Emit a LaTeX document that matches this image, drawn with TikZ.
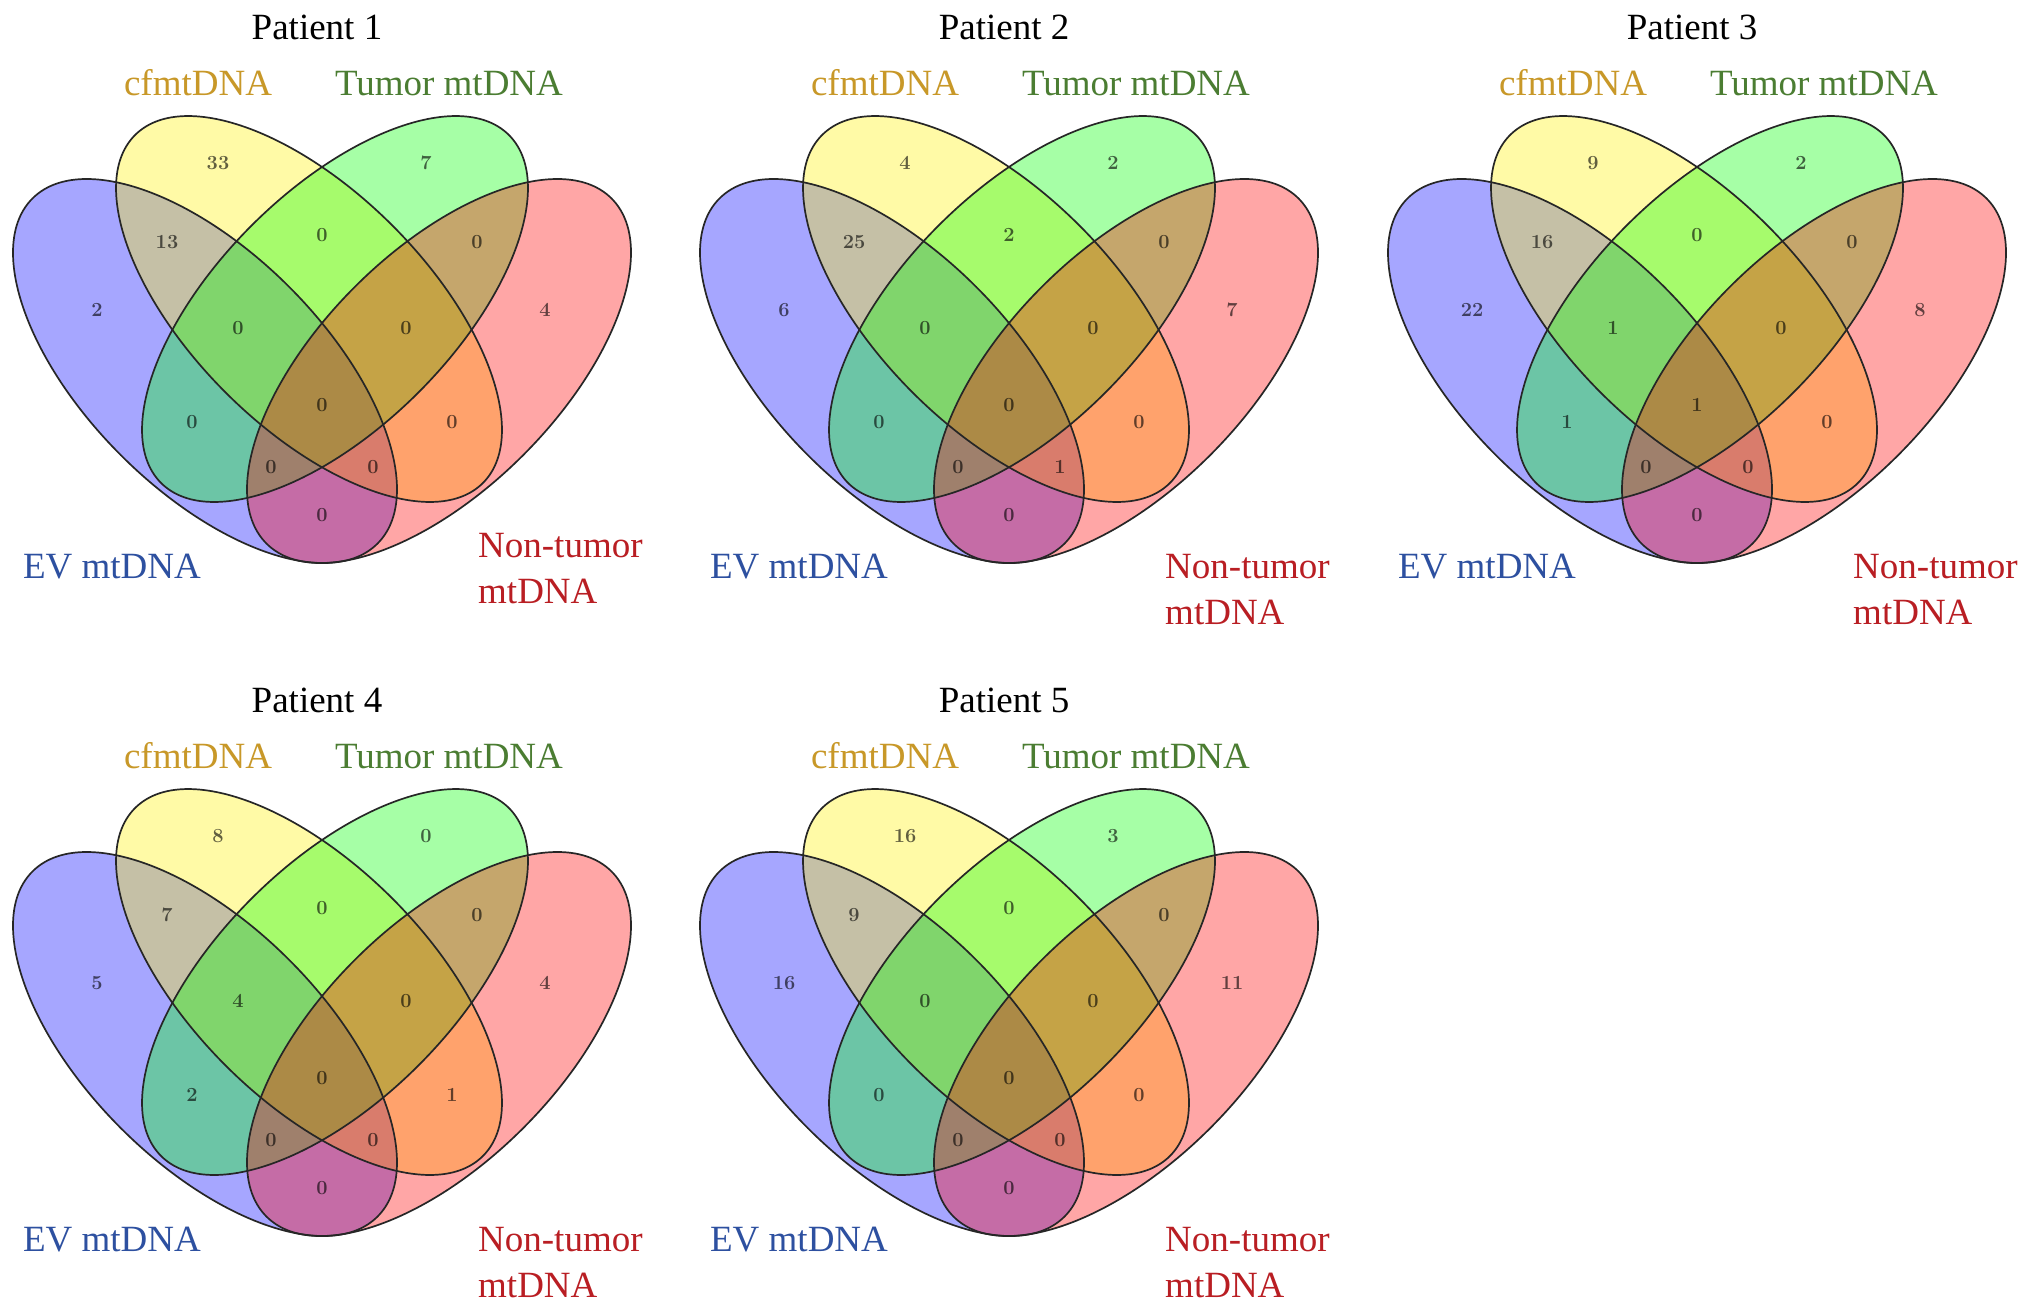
\documentclass[tikz,border=0pt]{standalone}
\usepackage{fontspec}
\newfontfamily\labfont{Liberation Serif}
\definecolor{cfmcol}{RGB}{200,152,40}
\definecolor{tumcol}{RGB}{75,125,50}
\definecolor{evcol}{RGB}{45,80,160}
\definecolor{noncol}{RGB}{185,30,35}
\tikzset{
  num/.style={font=\fontsize{20}{20}\selectfont\bfseries, text=black, text opacity=0.62, inner sep=0pt},
  cat/.style={font=\labfont\fontsize{37}{40}\selectfont, inner sep=0pt, anchor=base},
  setfill/.style={fill=#1, fill opacity=0.35},
  setline/.style={draw=black!85, line width=1.7pt},
}
\newcommand\vennpanel[6]{%
\begin{scope}[shift={(#2,#3)}]
  \fill[setfill=blue, rotate around={-45:(-117,371)}] (-117,371) ellipse [x radius=244pt, y radius=119pt];
  \fill[setfill=yellow, rotate around={-45:(-13,309)}] (-13,309) ellipse [x radius=246pt, y radius=118pt];
  \fill[setfill=green, rotate around={45:(13,309)}] (13,309) ellipse [x radius=246pt, y radius=118pt];
  \fill[setfill=red, rotate around={45:(117,371)}] (117,371) ellipse [x radius=244pt, y radius=119pt];
  \draw[setline, rotate around={-45:(-117,371)}] (-117,371) ellipse [x radius=244pt, y radius=119pt];
  \draw[setline, rotate around={-45:(-13,309)}] (-13,309) ellipse [x radius=246pt, y radius=118pt];
  \draw[setline, rotate around={45:(13,309)}] (13,309) ellipse [x radius=246pt, y radius=118pt];
  \draw[setline, rotate around={45:(117,371)}] (117,371) ellipse [x radius=244pt, y radius=119pt];
  \node[cat] (#1-title) at (-5,39) {#4};
  \node[cat, text=cfmcol] (#1-cfm) at (-124,95) {cfmtDNA};
  \node[cat, text=tumcol] (#1-tum) at (127,95) {Tumor mtDNA};
  \node[cat, text=evcol] (#1-ev) at (-210,578) {EV mtDNA};
  \node[cat, text=noncol, anchor=base west] (#1-non) at (156,#5) {Non-tumor};
  \node[cat, text=noncol, anchor=base west] (#1-non2) at (156,{#5+46}) {mtDNA};
  \coordinate (#1-r1) at (-104,163);
  \coordinate (#1-r2) at (104,163);
  \coordinate (#1-r3) at (-155,242);
  \coordinate (#1-r4) at (0,235);
  \coordinate (#1-r5) at (155,242);
  \coordinate (#1-r6) at (-225,310);
  \coordinate (#1-r7) at (223,310);
  \coordinate (#1-r8) at (-84,328);
  \coordinate (#1-r9) at (84,328);
  \coordinate (#1-r10) at (0,405);
  \coordinate (#1-r11) at (-130,422);
  \coordinate (#1-r12) at (130,422);
  \coordinate (#1-r13) at (-51,467);
  \coordinate (#1-r14) at (51,467);
  \coordinate (#1-r15) at (0,515);
  \foreach \v [count=\i] in {#6} { \node[num] (#1-n\i) at (#1-r\i) {\v}; }
\end{scope}}
\begin{document}
\begin{tikzpicture}[x=1pt,y=-1pt]
  \useasboundingbox (0,0) rectangle (2031,1312);
  \fill[white] (0,0) rectangle (2031,1312);
  \vennpanel{p1}{322}{0}{Patient 1}{557}{33,7,13,0,0,2,4,0,0,0,0,0,0,0,0}
  \vennpanel{p2}{1009}{0}{Patient 2}{578}{4,2,25,2,0,6,7,0,0,0,0,0,0,1,0}
  \vennpanel{p3}{1697}{0}{Patient 3}{578}{9,2,16,0,0,22,8,1,0,1,1,0,0,0,0}
  \vennpanel{p4}{322}{673}{Patient 4}{578}{8,0,7,0,0,5,4,4,0,0,2,1,0,0,0}
  \vennpanel{p5}{1009}{673}{Patient 5}{578}{16,3,9,0,0,16,11,0,0,0,0,0,0,0,0}
\end{tikzpicture}
\end{document}
